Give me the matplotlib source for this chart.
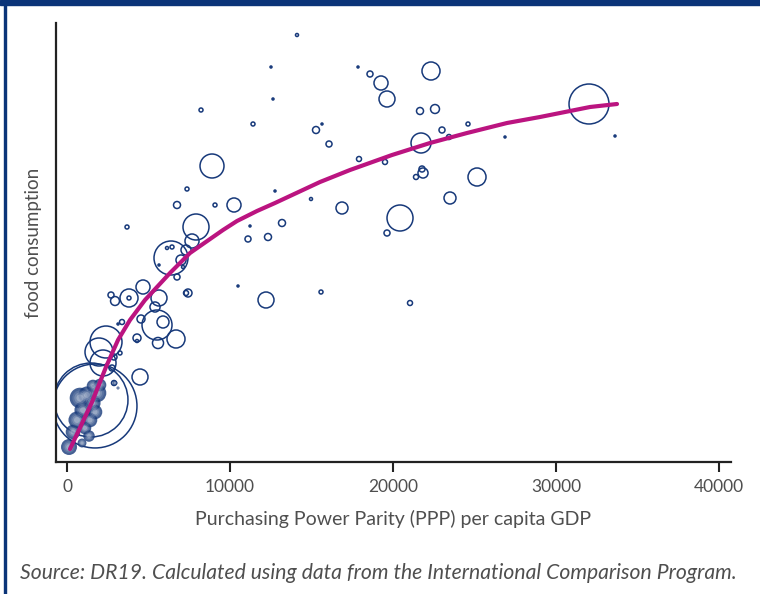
import matplotlib
matplotlib.use("Agg")
import matplotlib.pyplot as plt
import numpy as np

# open bubbles: GDP per capita (PPP), food consumption index, population (millions)
gdp = [14110, 12515, 12638, 8221, 11411, 15276, 15644, 16074, 17914, 8896,
       7362, 6749, 9080, 10245, 3681, 7914, 7669, 6380, 6135, 6442,
       7301, 6994, 5644, 7117, 6749, 10491, 11227, 11104, 12331, 13190,
       12761, 14969, 16871, 15583, 12209, 17853, 18589, 19264, 19632, 22331,
       21657, 22577, 23006, 23436, 24601, 21718, 26871, 32025, 33620, 19509,
       21779, 21841, 21411, 25154, 23497, 20430, 19632, 21043, 4663, 2699,
       3804, 3804, 2945, 5644, 5399, 7423, 7301, 4540, 3374, 3129,
       5522, 5890, 6687, 5583, 4295, 4295, 2393, 1963, 2209, 2883,
       3252, 2761, 4479, 2883, 1718, 1472]
food = [427, 395, 363, 352, 338, 332, 338, 318, 303, 296,
        273, 257, 257, 257, 235, 235, 221, 204, 214, 215,
        212, 202, 197, 195, 185, 176, 236, 223, 225, 239,
        271, 263, 254, 170, 162, 395, 388, 379, 363, 391,
        351, 353, 332, 325, 338, 319, 325, 358, 326, 300,
        293, 289, 285, 285, 264, 244, 229, 159, 175, 167,
        164, 164, 161, 164, 155, 169, 169, 143, 140, 138,
        137, 140, 123, 119, 124, 121, 120, 110, 99, 105,
        109, 94, 85, 79, 56, 62]
pop = [1.7, 0.75, 0.75, 3, 3, 9.2, 0.75, 6.8, 4.7, 108,
       3, 9.2, 3, 37, 3, 127, 37, 217, 1.7, 3,
       19, 19, 0.75, 1.7, 6.8, 0.75, 0.75, 6.8, 9.2, 9.2,
       0.75, 1.7, 27, 3, 48, 0.75, 6.8, 37, 48, 61,
       9.2, 15, 6.8, 4.7, 3, 75, 0.75, 300, 0.75, 4.7,
       6.8, 19, 4.7, 61, 27, 127, 6.8, 4.7, 37, 6.8,
       61, 3, 15, 48, 19, 12, 4.7, 12, 4.7, 0.75,
       169, 27, 61, 23, 12, 1.7, 192, 147, 127, 6.8,
       3, 6.8, 48, 4.7, 1323, 1027]

# shaded (filled) bubbles in the low-income cluster
gdp_f = [123, 920, 368, 614, 1411, 982, 1718, 798, 1534, 1841,
         1227, 1595, 2025, 1100, 1350, 2945, 3129]
food_f = [15, 19, 30, 42, 42, 52, 50, 64, 59, 69,
          67, 76, 77, 34, 26, 79, 74]
pop_f = [48, 15, 40, 55, 40, 55, 40, 80, 55, 65,
         55, 30, 30, 30, 25, 4.7, 1.7]

# fitted trend line
fit_x = [184, 675, 1104, 1534, 1902, 2393, 3129, 3865, 4785, 6319,
         7546, 9571, 10430, 11657, 12761, 13681, 15522, 17362, 19939, 22270,
         24540, 26994, 29019, 30859, 32086, 33742]
fit_y = [13, 30, 45, 60, 75, 95, 122, 142, 162, 189,
         209, 232, 241, 251, 259, 266, 280, 292, 307, 319,
         329, 339, 345, 351, 355, 358]

navy = "#17397a"
magenta = "#bb1480"
grey = "#4f4f4f"
scale = 2.76

plt.rcParams['font.family'] = ['Lato', 'DejaVu Sans']

fig = plt.figure(figsize=(7.6, 5.94), dpi=100)
ax = fig.add_axes([56 / 760, 1 - 462 / 594, 675 / 760, 439 / 594])

ax.scatter(gdp, food, s=np.array(pop) * scale, facecolors="none",
           edgecolors=navy, linewidths=1.1, zorder=2)

sf = np.array(pop_f) * scale
ax.scatter(gdp_f, food_f, s=sf, color=navy, alpha=0.8, linewidths=0, zorder=3)
for k, a in [(0.55, 0.12), (0.3, 0.18), (0.12, 0.25)]:
    ax.scatter(gdp_f, food_f, s=sf * k, color="white", alpha=a,
               linewidths=0, zorder=3)

ax.plot(fit_x, fit_y, color=magenta, lw=3, solid_capstyle="round",
        solid_joinstyle="round", zorder=4)

ax.set_xlim(-675, 40736)
ax.set_ylim(0, 439)
ax.set_xticks([0, 10000, 20000, 30000, 40000])
ax.set_yticks([])
ax.tick_params(axis="x", direction="out", length=7, width=1.5, color="#222222",
               labelsize=12.5, labelcolor=grey, pad=5)
for side in ["top", "right"]:
    ax.spines[side].set_visible(False)
for side in ["left", "bottom"]:
    ax.spines[side].set_linewidth(1.6)
    ax.spines[side].set_color("#222222")

ax.set_xlabel("Purchasing Power Parity (PPP) per capita GDP", fontsize=14,
              color=grey, labelpad=11)
ax.set_ylabel("food consumption", fontsize=13.5, color=grey, labelpad=10)

fig.text(20 / 760, 1 - 573 / 594, "Source: DR19. Calculated using data from the International Comparison Program.",
         fontsize=15.2, style="italic", color=grey, va="center", ha="left")

# frame: dark band on top, thin line on left
fig.patches.append(plt.Rectangle((0, 1 - 5 / 594), 1, 5 / 594, transform=fig.transFigure,
                                 color="#0b3478", zorder=10))
fig.patches.append(plt.Rectangle((4 / 760, 0), 2 / 760, 1, transform=fig.transFigure,
                                 color="#0b3478", zorder=10))

plt.savefig("out.png", dpi=100)
